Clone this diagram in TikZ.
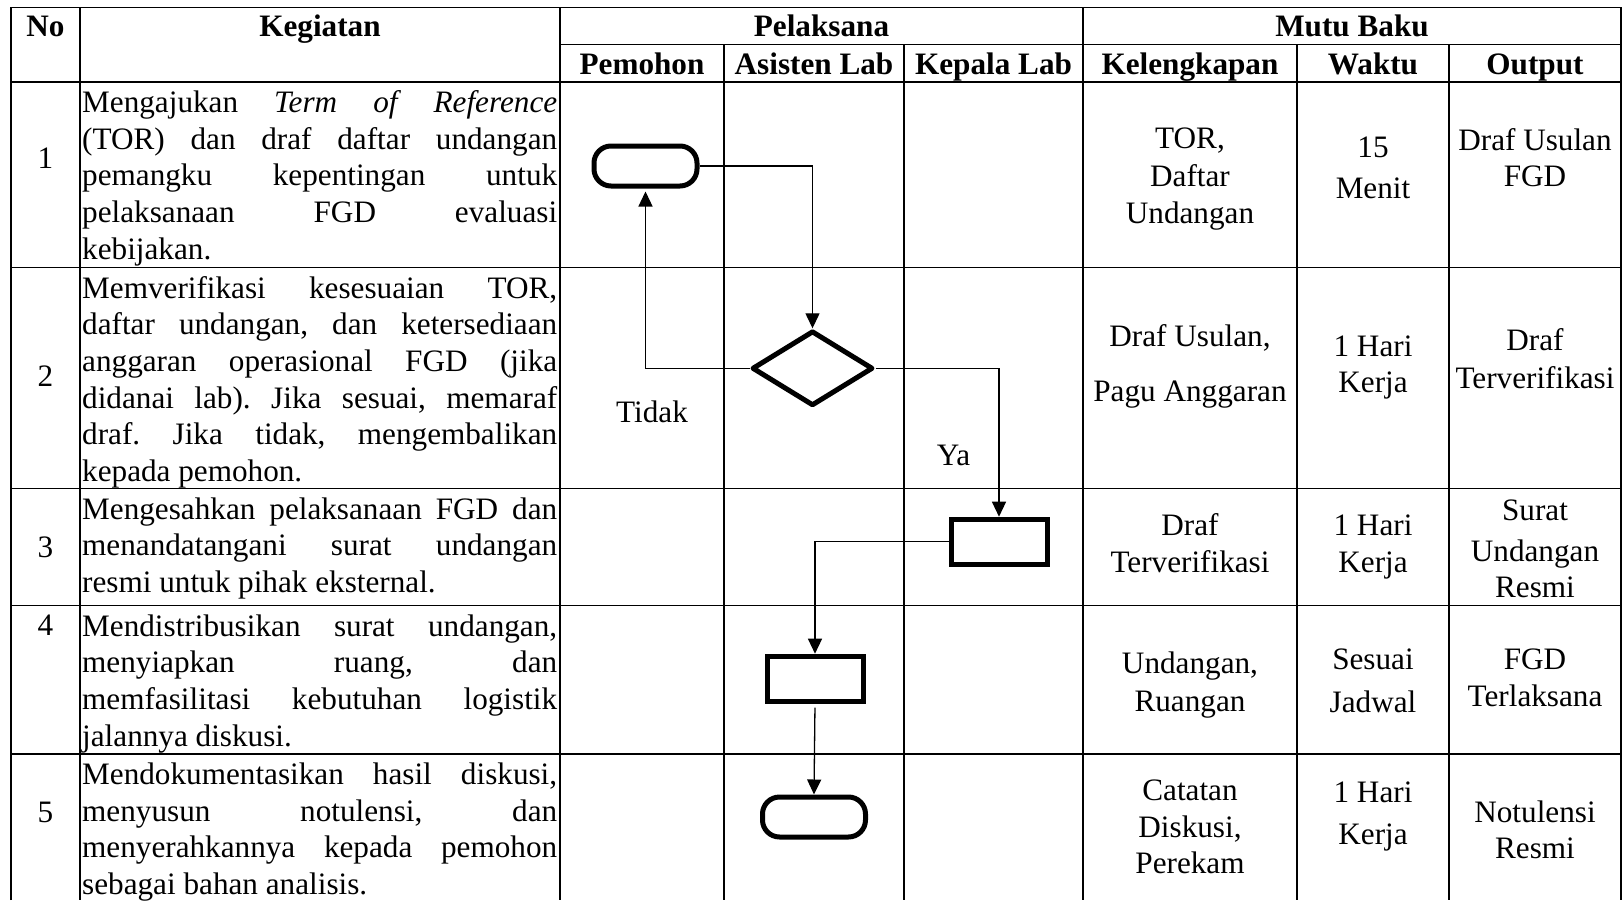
\documentclass[tikz,border=0pt]{standalone}
\usepackage{fontspec}
\setmainfont{Liberation Serif}
\usetikzlibrary{shapes.geometric,arrows.meta}
\frenchspacing

% width of the justified activity column
\newlength\kw
\setlength\kw{475pt}
% one fully justified line, and one left-aligned closing line
\newcommand\jl[1]{\makebox[\kw][s]{#1}\par}
\newcommand\lastl[1]{\makebox[\kw][l]{#1}\par}
\newcommand\actbox[1]{\parbox[t]{\kw}{\setlength\parindent{0pt}#1}}

\begin{document}
\begin{tikzpicture}[x=1pt,y=-1pt,
  grid/.style={line width=1.8pt},
  txt/.style={inner sep=0pt, anchor=base, font=\fontsize{31.2}{36.7}\selectfont},
  hd/.style={inner sep=0pt, anchor=base, font=\fontsize{31.2}{36.7}\selectfont\bfseries},
  act/.style={inner sep=0pt, anchor=base west, font=\fontsize{31.2}{36.7}\selectfont},
  flow/.style={draw, line width=5pt, inner sep=0pt},
  term/.style={flow, rectangle, rounded corners=17pt, minimum width=103pt, minimum height=40pt},
  proc/.style={flow, rectangle, minimum width=96pt, minimum height=45pt},
  dec/.style={flow, diamond, line join=round, minimum width=121pt, minimum height=75pt},
  conn/.style={line width=1.3pt, -{Triangle[length=15pt,width=14pt]}},
]
\useasboundingbox (0,0) rectangle (1623,900);

% ---------- table grid ----------
\draw[grid] (11,900) -- (11,7.5) -- (1621,7.5) -- (1621,900);
\foreach \yy in {82,267.5,488.5,605.5,754}
  \draw[grid] (11,\yy) -- (1621,\yy);
\draw[grid] (560,44.5) -- (1621,44.5);
\foreach \xx in {80,560,1083}
  \draw[grid] (\xx,7.5) -- (\xx,900);
\foreach \xx in {724,904,1297,1449}
  \draw[grid] (\xx,44.5) -- (\xx,900);

% ---------- header ----------
\node[hd] (hNo)   at (45.5,36.7) {No};
\node[hd] (hKeg)  at (320,36.7)  {Kegiatan};
\node[hd] (hPel)  at (821.5,36.7) {Pelaksana};
\node[hd] (hMutu) at (1352,36.7) {Mutu Baku};
\node[hd] (hPem)  at (642,74)    {Pemohon};
\node[hd] (hAsi)  at (814,74)    {Asisten Lab};
\node[hd] (hKep)  at (993.5,74)  {Kepala Lab};
\node[hd] (hKel)  at (1190,74)   {Kelengkapan};
\node[hd] (hWak)  at (1373,74)   {Waktu};
\node[hd] (hOut)  at (1535,74)   {Output};

% ---------- step numbers ----------
\node[txt] (n1) at (45.5,168) {1};
\node[txt] (n2) at (45.5,386) {2};
\node[txt] (n3) at (45.5,557) {3};
\node[txt] (n4) at (45.5,635) {4};
\node[txt] (n5) at (45.5,822) {5};

% ---------- activities ----------
\node[act] (a1) at (82,112.5) {\actbox{%
  \jl{Mengajukan \textit{Term of Reference}}
  \jl{(TOR) dan draf daftar undangan}
  \jl{pemangku kepentingan untuk}
  \jl{pelaksanaan FGD evaluasi}
  \lastl{kebijakan.}}};
\node[act] (a2) at (82,298) {\actbox{%
  \jl{Memverifikasi kesesuaian TOR,}
  \jl{daftar undangan, dan ketersediaan}
  \jl{anggaran operasional FGD (jika}
  \jl{didanai lab). Jika sesuai, memaraf}
  \jl{draf. Jika tidak, mengembalikan}
  \lastl{kepada pemohon.}}};
\node[act] (a3) at (82,519) {\actbox{%
  \jl{Mengesahkan pelaksanaan FGD dan}
  \jl{menandatangani surat undangan}
  \lastl{resmi untuk pihak eksternal.}}};
\node[act] (a4) at (82,636) {\actbox{%
  \jl{Mendistribusikan surat undangan,}
  \jl{menyiapkan ruang, dan}
  \jl{memfasilitasi kebutuhan logistik}
  \lastl{jalannya diskusi.}}};
\node[act] (a5) at (82,784.5) {\actbox{%
  \jl{Mendokumentasikan hasil diskusi,}
  \jl{menyusun notulensi, dan}
  \jl{menyerahkannya kepada pemohon}
  \lastl{sebagai bahan analisis.}}};

% ---------- quality standard columns ----------
\foreach \xx/\yy/\tt [count=\i] in {
  1190/148/{TOR,}, 1190/186/Daftar, 1190/223.5/Undangan,
  1373/157/15, 1373/198.7/Menit,
  1535/150.3/Draf Usulan, 1535/186.5/FGD,
  1190/346/{Draf Usulan,}, 1190/401/Pagu Anggaran,
  1373/356/1 Hari, 1373/392.5/Kerja,
  1535/350.5/Draf, 1535/388/Terverifikasi,
  1190/535/Draf, 1190/572.5/Terverifikasi,
  1373/535/1 Hari, 1373/572.5/Kerja,
  1535/520/Surat, 1535/561/Undangan, 1535/597.5/Resmi,
  1190/673.5/{Undangan,}, 1190/711/Ruangan,
  1373/669/Sesuai, 1373/712/Jadwal,
  1535/669/FGD, 1535/706.5/Terlaksana,
  1190/800/Catatan, 1190/837.5/{Diskusi,}, 1190/873/Perekam,
  1373/802.5/1 Hari, 1373/844/Kerja,
  1535/822.5/Notulensi, 1535/858/Resmi}
  \node[txt] (m\i) at (\xx,\yy) {\tt};

% ---------- flowchart ----------
\node[term] (t1) at (645.5,166)   {};
\node[dec]  (d)  at (812.5,368.3) {};
\node[proc] (r1) at (999,541.7)   {};
\node[proc] (r2) at (815,678.7)   {};
\node[term] (t2) at (814,817)     {};

\draw[conn] (t1.east) -| (d.north);
\draw[conn, shorten >=3pt] (d.west) -| (t1.south);
\draw[conn] (d.east) -| (r1.north);
\draw[conn] (r1.west) -| (r2.north);
\draw[conn, shorten <=4pt] (r2.south) -- (t2.north);

\node[txt] (tidak) at (652,422) {Tidak};
\node[txt] (ya)    at (953.5,465) {Ya};
\end{tikzpicture}
\end{document}
